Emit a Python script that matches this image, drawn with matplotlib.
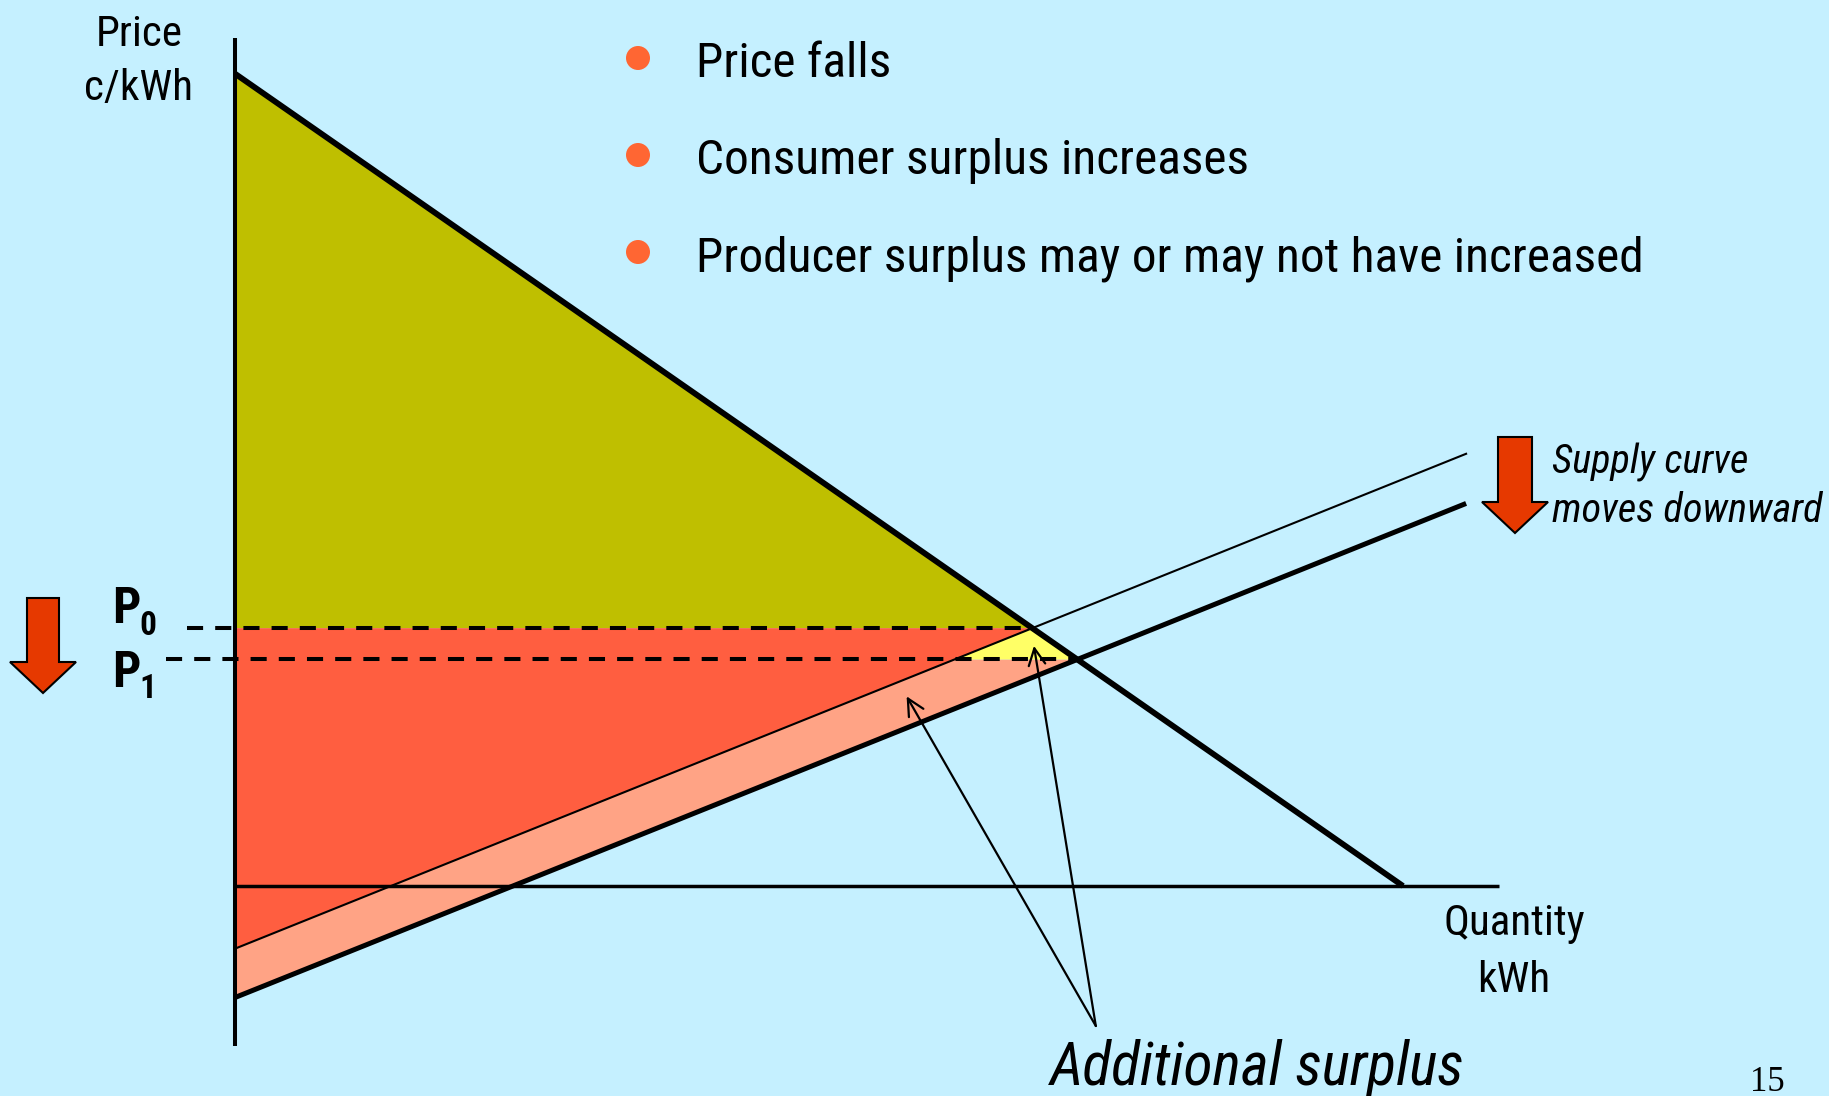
import matplotlib
matplotlib.use('Agg')
import matplotlib.pyplot as plt
from matplotlib import font_manager
from matplotlib.patches import FancyArrow, Circle

# Curves (quantity, price)
demand_q = [0.0, 10.0]
demand_p = [9.98, 0.0]
supply_old_q = [0.0, 10.54]
supply_old_p = [-0.77, 5.31]
supply_new_q = [0.0, 10.54]
supply_new_p = [-1.37, 4.70]

bullets = ['Price falls', 'Consumer surplus increases',
           'Producer surplus may or may not have increased']

# colours
bg = '#C5F0FF'
olive = '#BFBF00'
red = '#FF5E40'
salmon = '#FFA385'
yellow = '#FFFF66'
arrow_red = '#E63900'
bullet_col = '#FF6633'

# condensed sans, like the Arial Narrow of the slide
names = {f.name for f in font_manager.fontManager.ttflist}
narrow = 'Liberation Sans'
for cand in ['Liberation Sans Narrow', 'Arial Narrow', 'Roboto Condensed',
             'PT Sans Narrow', 'Archivo Narrow', 'Fira Sans Condensed']:
    if cand in names:
        narrow = cand
        break


def cross(q1, p1, q2, p2):
    s1 = (p1[1] - p1[0]) / (q1[1] - q1[0])
    s2 = (p2[1] - p2[0]) / (q2[1] - q2[0])
    q = (p2[0] - p1[0]) / (s1 - s2)
    return q, p1[0] + s1 * q


q0, p0 = cross(demand_q, demand_p, supply_old_q, supply_old_p)
q1, p1 = cross(demand_q, demand_p, supply_new_q, supply_new_p)
# where the old supply curve reaches the new price
qa = (p1 - supply_old_p[0]) / ((supply_old_p[1] - supply_old_p[0]) / supply_old_q[1])

fig = plt.figure(figsize=(18.29, 10.96), dpi=100, facecolor=bg)
ax = fig.add_axes([0, 0, 1, 1])
ax.set_facecolor(bg)
ax.set_xlim(-2.012, 13.647)
ax.set_ylim(-2.58, 10.885)
ax.axis('off')

# surplus areas
ax.fill([0, q0, 0], [demand_p[0], p0, p0], color=olive, lw=0, zorder=1)
ax.fill([0, q0, 0], [p0, p0, supply_old_p[0]], color=red, lw=0, zorder=1)
ax.fill([0, qa, q1, 0], [supply_old_p[0], p1, p1, supply_new_p[0]], color=salmon, lw=0, zorder=1)
ax.fill([qa, q0, q1], [p1, p0, p1], color=yellow, lw=0, zorder=1)

# price levels
ax.plot([-0.41, q0], [p0, p0], color='black', lw=2.9, dashes=(4, 3), zorder=3)
ax.plot([-0.59, q1], [p1, p1], color='black', lw=2.9, dashes=(4, 3), zorder=3)

# curves
ax.plot(demand_q, demand_p, color='black', lw=4.2, solid_capstyle='butt', zorder=4)
ax.plot(supply_old_q, supply_old_p, color='black', lw=1.5, zorder=4)
ax.plot(supply_new_q, supply_new_p, color='black', lw=3.6, solid_capstyle='butt', zorder=4)

# axes
ax.plot([0, 0], [-1.97, 10.42], color='black', lw=2.9, solid_capstyle='butt', zorder=5)
ax.plot([0, 10.82], [0, 0], color='black', lw=2.5, solid_capstyle='butt', zorder=5)

# arrows to the additional surplus
for tip in [(5.75, 2.33), (6.84, 2.95)]:
    ax.annotate('', xy=tip, xytext=(7.37, -1.72),
                arrowprops=dict(arrowstyle='->', color='black', lw=1.6,
                                mutation_scale=30, shrinkA=0, shrinkB=0),
                zorder=6)

# overlay in pixel coordinates for text and decorations
ov = fig.add_axes([0, 0, 1, 1], facecolor='none')
ov.set_xlim(0, 1829)
ov.set_ylim(1096, 0)
ov.axis('off')
renderer = fig.canvas.get_renderer()


def fit(texts, ref, width):
    # scale a group of texts so that the ref text spans the given pixel width
    w = ref.get_window_extent(renderer).width
    size = ref.get_fontsize() * width / w
    for t in texts:
        t.set_fontsize(size)


kw = dict(family=narrow, fontsize=30, va='baseline')
axis_txt = [ov.text(139, 46, 'Price', ha='center', **kw),
            ov.text(139, 100, 'c/kWh', ha='center', **kw),
            ov.text(1514, 935, 'Quantity', ha='center', **kw),
            ov.text(1514, 992, 'kWh', ha='center', **kw)]
fit(axis_txt, axis_txt[2], 142)

bul_txt = []
for i, b in enumerate(bullets):
    y = 58 + i * 97
    ov.add_patch(Circle((638, y), 12, color=bullet_col, lw=0))
    bul_txt.append(ov.text(696, y + 19, b, **kw))
fit(bul_txt, bul_txt[2], 948)

sup_txt = [ov.text(1552, 473, 'Supply curve', style='italic', **kw),
           ov.text(1552, 522, 'moves downward', style='italic', **kw)]
fit(sup_txt, sup_txt[1], 270)

ov.text(112, 623, 'P', family=narrow, weight='bold', fontsize=36, va='baseline')
ov.text(139, 635, '0', family=narrow, weight='bold', fontsize=24, va='baseline')
ov.text(112, 687, 'P', family=narrow, weight='bold', fontsize=36, va='baseline')
ov.text(139, 698, '1', family=narrow, weight='bold', fontsize=24, va='baseline')

add_txt = ov.text(1050, 1085, 'Additional surplus', style='italic', **kw)
fit([add_txt], add_txt, 414)
ov.text(1767, 1091, '15', family='Liberation Serif', fontsize=25, ha='center', va='baseline')

# red down arrows
ov.add_patch(FancyArrow(43, 598, 0, 95, width=32, head_width=66, head_length=31,
                        length_includes_head=True, fc=arrow_red, ec='black', lw=1.5))
ov.add_patch(FancyArrow(1515, 437, 0, 96, width=34, head_width=66, head_length=31,
                        length_includes_head=True, fc=arrow_red, ec='black', lw=1.5))

fig.savefig('out.png', dpi=100, facecolor=bg)
